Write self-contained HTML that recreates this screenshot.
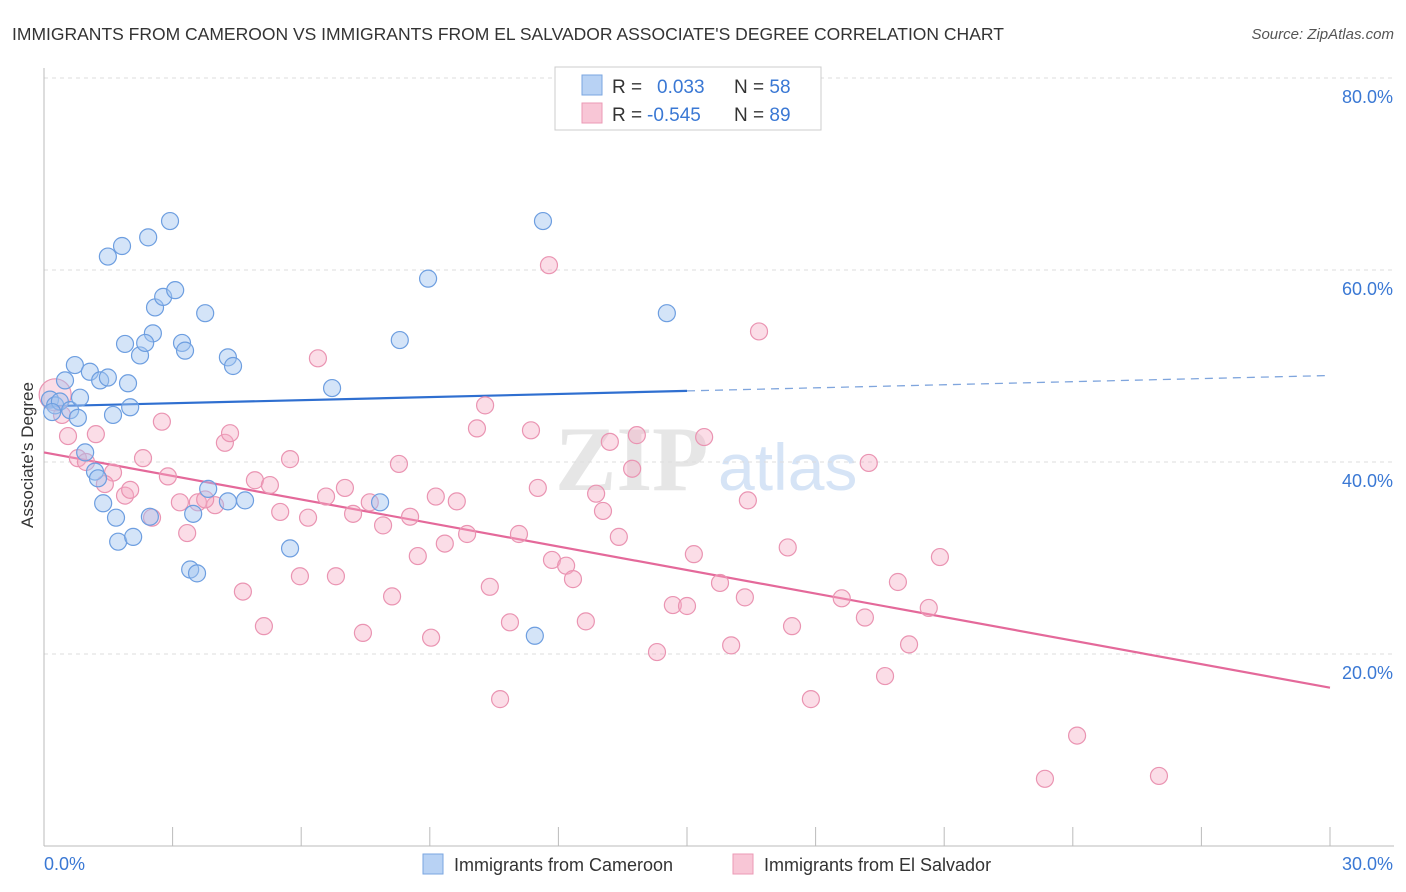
<!DOCTYPE html>
<html><head><meta charset="utf-8"><style>
body{margin:0;background:#fff;font-family:"Liberation Sans",sans-serif}
svg{display:block}
</style></head><body>
<svg id="chart" width="1406" height="892" xmlns="http://www.w3.org/2000/svg">
<text x="12" y="40" font-size="17.5" fill="#333">IMMIGRANTS FROM CAMEROON VS IMMIGRANTS FROM EL SALVADOR ASSOCIATE'S DEGREE CORRELATION CHART</text>
<text x="1394" y="39" font-size="15" fill="#555" font-style="italic" text-anchor="end">Source: ZipAtlas.com</text>
<g>
<text x="555" y="490" font-size="92" fill="#e6e6e6" font-family="Liberation Serif" font-weight="bold">ZIP</text>
<text x="718" y="490" font-size="66" fill="#d6e4f6">atlas</text>
</g>
<g id="grid"></g>
<g id="axes"></g>
<g id="lines"></g>
<g id="pts"></g>
<text transform="translate(33,455) rotate(-90)" font-size="17" fill="#333" text-anchor="middle">Associate's Degree</text>
<g>
<rect x="555" y="67" width="266" height="63" fill="#fff" stroke="#ccc"/>
<rect x="582" y="75" width="20" height="20" fill="#b8d2f4" stroke="#7aa6e0"/>
<rect x="582" y="103" width="20" height="20" fill="#f8c6d6" stroke="#eb9ab5"/>
<text x="612" y="93" font-size="19" fill="#333">R = <tspan fill="#3a78d4" x="657">0.033</tspan><tspan x="734">N = </tspan><tspan fill="#3a78d4">58</tspan></text>
<text x="612" y="121" font-size="19" fill="#333">R = <tspan fill="#3a78d4" x="647">-0.545</tspan><tspan x="734">N = </tspan><tspan fill="#3a78d4">89</tspan></text>
</g>
<g>
<rect x="423" y="854" width="20" height="20" fill="#b8d2f4" stroke="#7aa6e0"/>
<text x="454" y="871" font-size="18" fill="#333">Immigrants from Cameroon</text>
<rect x="733" y="854" width="20" height="20" fill="#f8c6d6" stroke="#eb9ab5"/>
<text x="764" y="871" font-size="18" fill="#333">Immigrants from El Salvador</text>
</g>
</svg>
<script>
const blueX=[0.14,0.26,0.37,0.49,0.61,0.72,0.84,0.19,0.79,1.07,1.31,1.49,1.96,1.61,2.01,0.96,1.19,1.26,1.38,1.68,1.73,2.08,2.47,1.49,1.82,2.43,2.94,2.59,2.78,3.06,2.54,1.89,2.24,2.36,3.22,3.29,3.76,4.29,4.41,3.83,3.48,3.41,3.57,4.29,4.69,5.74,6.72,8.30,8.96,7.84,11.64,11.45,14.53];
const blueY=[46.5,45.9,46.3,48.5,45.4,50.1,46.7,45.2,44.6,49.4,48.5,48.8,48.2,44.9,45.7,41.0,39.0,38.3,35.7,34.2,31.7,32.2,34.3,61.4,62.5,63.4,65.1,56.1,57.2,57.9,53.4,52.3,51.1,52.4,52.4,51.6,55.5,50.9,50.0,37.2,34.6,28.8,28.4,35.9,36.0,31.0,47.7,52.7,59.1,35.8,65.1,21.9,55.5];
const pinkX=[0.26,0.42,0.56,0.79,1.21,0.98,1.61,1.42,1.89,2.01,2.31,2.52,2.75,2.89,3.17,3.34,3.59,3.99,3.76,4.22,4.34,4.64,4.92,5.13,5.27,5.51,5.74,5.97,6.16,6.39,6.58,6.81,7.02,7.21,7.44,7.60,7.91,8.12,8.28,8.54,8.72,9.03,9.14,9.35,9.63,9.87,10.10,10.29,10.40,10.87,10.64,11.08,11.36,11.52,11.78,11.85,12.18,12.34,12.64,12.88,13.04,13.20,13.41,13.72,13.83,14.30,14.67,15.00,15.16,15.40,15.77,16.03,16.35,16.42,16.68,17.35,17.45,17.89,18.61,19.15,19.24,19.62,19.92,20.18,20.64,20.90,23.35,24.10,26.01];
const pinkY=[47.0,44.9,42.7,40.4,42.9,40.0,38.9,37.7,36.5,37.1,40.4,34.2,44.2,38.5,35.8,32.6,35.8,35.5,36.1,42.0,43.0,26.5,38.1,22.9,37.6,34.8,40.3,28.1,34.2,50.8,36.4,28.1,37.3,34.6,22.2,35.8,33.4,26.0,39.8,34.3,30.2,21.7,36.4,31.5,35.9,32.5,43.5,45.9,27.0,23.3,15.3,32.5,43.3,37.3,60.5,29.8,29.2,27.8,23.4,36.7,34.9,42.1,32.2,39.3,42.8,20.2,25.1,25.0,30.4,42.6,27.4,20.9,25.9,36.0,53.6,31.1,22.9,15.3,25.8,23.8,39.9,17.7,27.5,21.0,24.8,30.1,7.0,11.5,7.3];
const blueFit=[45.8,0.107];
const pinkFit=[41.0,-0.817];
const yTicks=[20,40,60,80];
const xTickLabels=["0.0%","30.0%"];
const NS="http://www.w3.org/2000/svg";
const sx=v=>44+v*(1330-44)/30, sy=v=>846-v*9.6;
function mk(tag,attrs,parent){const e=document.createElementNS(NS,tag);for(const k in attrs)e.setAttribute(k,attrs[k]);document.getElementById(parent).appendChild(e);return e;}
yTicks.forEach(t=>{
  const g=mk('line',{x1:44,x2:1394,y1:sy(t),y2:sy(t),stroke:'#ddd','stroke-dasharray':'4,4'},'grid');
  
  
  const tx=mk('text',{x:1393,y:sy(t)+25,'font-size':18,fill:'#3a78d4','text-anchor':'end'},'axes');
  tx.textContent=t.toFixed(1)+'%';
  
  
});
const ax=mk('line',{x1:44,x2:1394,y1:846,y2:846,stroke:'#bbb'},'axes');


const ay=mk('line',{x1:44,x2:44,y1:68,y2:846,stroke:'#bbb'},'axes');


for(let i=0;i<=10;i++){
  const t=mk('line',{x1:sx(i*3),x2:sx(i*3),y1:827,y2:846,stroke:'#bbb'},'axes');
  
  
}
[[0,'start',44],[30,'end',1393]].forEach((d,i)=>{
  const t=mk('text',{x:d[2],y:870,'font-size':18,fill:'#3a78d4','text-anchor':d[1]},'axes');
  t.textContent=xTickLabels[i];
  
  
});
const pf=x=>pinkFit[0]+pinkFit[1]*x, bf=x=>blueFit[0]+blueFit[1]*x;
let l=mk('line',{x1:sx(0),y1:sy(pf(0)),x2:sx(30),y2:sy(pf(30)),stroke:'#e4699a','stroke-width':2.2},'lines');


l=mk('line',{x1:sx(0),y1:sy(bf(0)),x2:sx(15),y2:sy(bf(15)),stroke:'#2f6fd0','stroke-width':2.2},'lines');


l=mk('line',{x1:sx(15),y1:sy(bf(15)),x2:sx(30),y2:sy(bf(30)),stroke:'#7fa5dd','stroke-width':1.3,'stroke-dasharray':'8,6'},'lines');


pinkX.forEach((x,i)=>{
  const c=mk('circle',{cx:sx(x),cy:sy(pinkY[i]),r:i===0?16:8.5,fill:'rgba(244,170,196,0.4)',stroke:'#ea94b2','stroke-width':1.2},'pts');
  
  
});
blueX.forEach((x,i)=>{
  const c=mk('circle',{cx:sx(x),cy:sy(blueY[i]),r:8.5,fill:'rgba(160,196,240,0.45)',stroke:'#6d9ee0','stroke-width':1.2},'pts');
  
  
});
</script>
</body></html>
